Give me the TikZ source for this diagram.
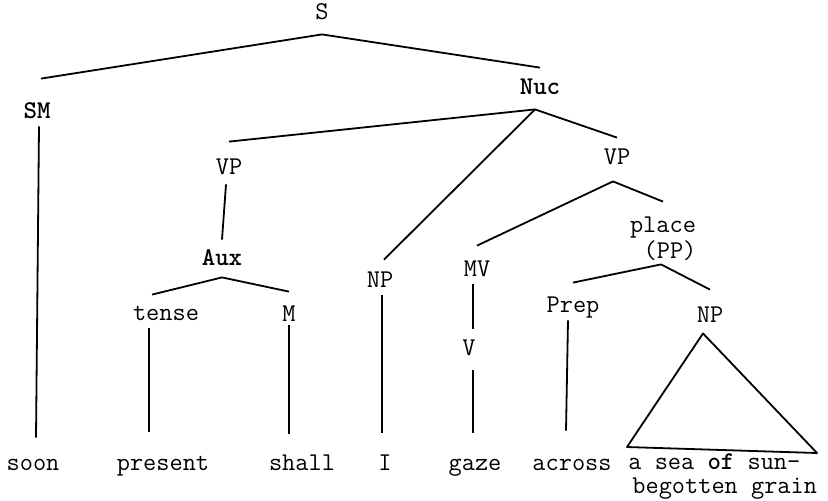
\documentclass[tikz,border=0pt]{standalone}
\usepackage{fontspec}
\usetikzlibrary{positioning}

\begin{document}
\begin{tikzpicture}[x=0.5pt, y=-0.5pt,
  lbl/.style={font=\ttfamily\fontsize{12.8}{14}\selectfont, inner sep=2pt, text height=7pt, text depth=2pt},
  leaf/.style={lbl, anchor=base},
  branch/.style={line width=0.9pt}]
  \useasboundingbox (0,0) rectangle (828,500);

  % Category labels
  \node[lbl] (S) at (322,14) {S};
  \node[lbl] (SM) at (37,113) {\textbf{SM}};
  \node[lbl] (Nuc) at (540,89) {\textbf{Nuc}};
  \node[lbl] (VPi) at (229,169) {VP};
  \node[lbl] (Aux) at (222,260) {\textbf{Aux}};
  \node[lbl] (tense) at (166,315) {tense};
  \node[lbl] (M) at (289,316) {M};
  \node[lbl] (NPi) at (380,282) {NP};
  \node[lbl] (VPii) at (617,159) {VP};
  \node[lbl] (place) at (663,227) {place};
  \node[lbl] (PP) at (670,253) {(PP)};
  \node[lbl] (MV) at (477,271) {MV};
  \node[lbl] (V) at (469,350) {V};
  \node[lbl] (Prep) at (573,307) {Prep};
  \node[lbl] (NPii) at (710,317) {NP};

  % Words
  \node[leaf] (soon) at (33,470) {soon};
  \node[leaf] (present) at (163,470) {present};
  \node[leaf] (shall) at (302,470) {shall};
  \node[leaf] (I) at (385,470) {I};
  \node[leaf] (gaze) at (475,470) {gaze};
  \node[leaf] (across) at (572,470) {across};
  \node[leaf, anchor=base west] (seaof) at (624,469) {a sea \textbf{of} sun-};
  \node[leaf, anchor=base west] (grain) at (628,493) {begotten grain};

  % Branches
  \draw[branch] ([yshift=-3.5pt]S.south) -- ([xshift=2pt,yshift=10.5pt]SM.north);
  \draw[branch] ([yshift=-3.5pt]S.south) -- ([yshift=4pt]Nuc.north);
  \draw[branch] ([xshift=1pt]SM.south) -- ([xshift=1.5pt,yshift=7pt]soon.north);

  \draw[branch] ([xshift=-2.5pt,yshift=-3.5pt]Nuc.south) -- ([yshift=7pt]VPi.north);
  \draw[branch] ([xshift=-2.5pt,yshift=-3.5pt]Nuc.south) -- ([xshift=2pt,yshift=4.5pt]NPi.north);
  \draw[branch] ([xshift=-2.5pt,yshift=-3.5pt]Nuc.south) -- ([yshift=4pt]VPii.north);

  \draw[branch] ([xshift=-1.5pt,yshift=-1pt]VPi.south) -- ([yshift=3.5pt]Aux.north);
  \draw[branch] ([yshift=-2pt]Aux.south) -- ([xshift=-7pt,yshift=3.5pt]tense.north);
  \draw[branch] ([yshift=-2pt]Aux.south) -- ([yshift=5.5pt]M.north);
  \draw[branch] ([xshift=-8.5pt]tense.south) -- ([xshift=-7pt,yshift=10pt]present.north);
  \draw[branch] ([yshift=2pt]M.south) -- ([xshift=-6.5pt,yshift=9pt]shall.north);
  \draw[branch] ([xshift=1pt]NPi.south) -- ([xshift=-1.5pt,yshift=9.5pt]I.north);

  \draw[branch] ([xshift=-2pt,yshift=-4.5pt]VPii.south) -- ([yshift=6pt]MV.north);
  \draw[branch] ([xshift=-2pt,yshift=-4.5pt]VPii.south) -- ([yshift=6pt]place.north);
  \draw[branch] ([xshift=-2pt]MV.south) -- ([xshift=2pt,yshift=4pt]V.north);
  \draw[branch] ([xshift=2pt,yshift=-3.5pt]V.south) -- ([xshift=-1pt,yshift=9.5pt]gaze.north);

  \draw[branch] ([xshift=-4.5pt,yshift=1pt]PP.south) -- ([yshift=5.5pt]Prep.north);
  \draw[branch] ([xshift=-4.5pt,yshift=1pt]PP.south) -- ([yshift=7pt]NPii.north);
  \draw[branch] ([xshift=-2.5pt]Prep.south) -- ([xshift=-3pt,yshift=10.5pt]across.north);

  % Triangle over the NP words
  \coordinate (triL) at (627,447);
  \coordinate (triR) at (817,453);
  \draw[branch, line join=round] ([xshift=-3.5pt,yshift=-1.5pt]NPii.south) -- (triL) -- (triR) -- cycle;
\end{tikzpicture}
\end{document}
